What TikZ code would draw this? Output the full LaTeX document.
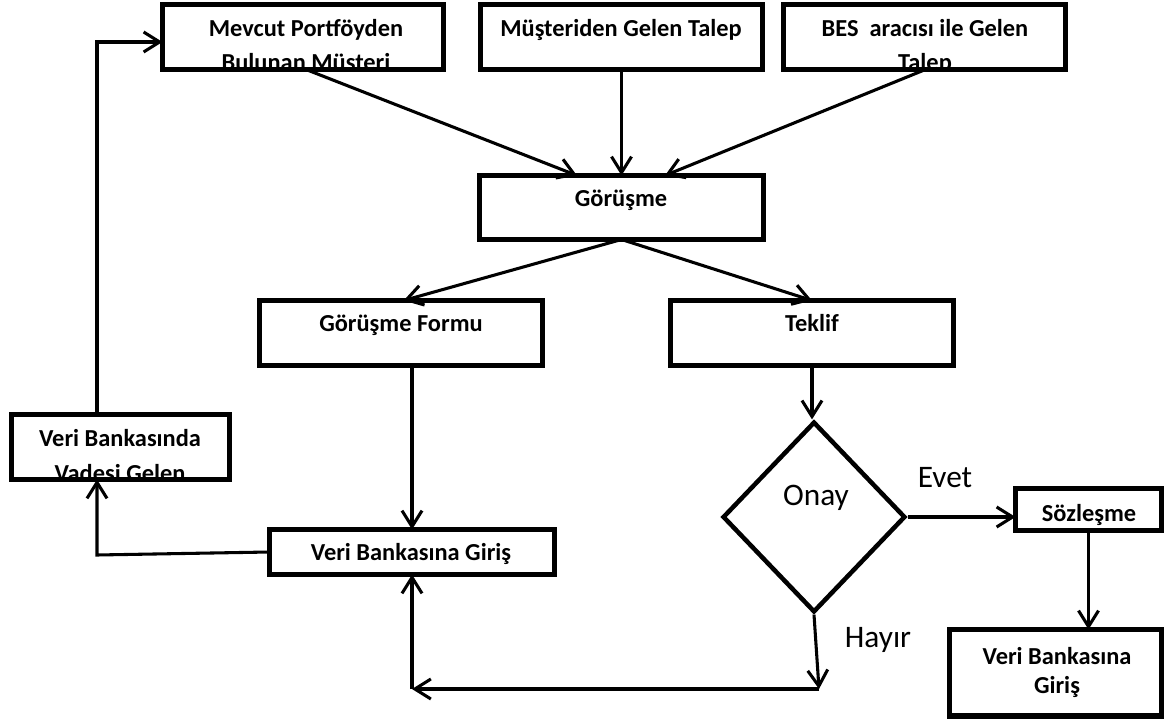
\documentclass[tikz,border=0pt]{standalone}
\usepackage{fontspec}
\setmainfont{Carlito}
\usetikzlibrary{arrows.meta,shapes.geometric,fit,calc}

\begin{document}
\begin{tikzpicture}[x=0.75pt,y=-0.75pt,
  box/.style={draw, line width=3.9pt, inner sep=0pt, outer sep=0pt},
  arr/.style={line width=2.3pt, -{Straight Barb[length=12pt,width=15pt]}},
  lbl/.style={anchor=base, inner sep=0pt, font=\fontsize{18.3}{22}\selectfont\bfseries},
  plain/.style={anchor=base, inner sep=0pt, font=\fontsize{23.5}{28}\selectfont},
]
% page
\fill[white] (0,0) rectangle (1164,720);
\useasboundingbox (0,0) rectangle (1164,720);

% process boxes
\node[box, fit={(162.5,4.5) (443.5,69.5)}] (mevcut) {};
\node[box, fit={(480.5,4.5) (762.5,69.5)}] (musteri) {};
\node[box, fit={(783.5,4.5) (1065.5,69.5)}] (bes) {};
\node[box, fit={(479.5,175.5) (763.5,239.5)}] (gorusme) {};
\node[box, fit={(259.5,300.5) (542.5,365.5)}] (form) {};
\node[box, fit={(670.5,300.5) (953.5,365.5)}] (teklif) {};
\node[box, fit={(11.5,414.5) (229.5,479.5)}] (vbanka) {};
\node[box, fit={(269.5,529.5) (554.5,574.5)}] (vbg) {};
\node[box, fit={(1015.5,488.5) (1161.5,530.5)}] (sozlesme) {};
\node[box, fit={(949.5,629.5) (1161.5,716)}] (vbg2) {};

% decision
\node[draw, diamond, line width=3.4pt, inner sep=0pt,
      minimum width=137pt, minimum height=143pt] (onay) at (814,517) {};

% box texts (overflowing second lines are cut at the box edge)
\node[lbl] (mevcutA) at (306,37) {Mevcut Portföyden};
\begin{scope}
  \clip (mevcut.south west) rectangle (mevcut.north east);
  \node[lbl] (mevcutB) at (306,71) {Bulunan Müşteri};
\end{scope}
\node[lbl] (musteriA) at (621,37) {Müşteriden Gelen Talep};
\node[lbl] (besA) at (925,37) {BES~~aracısı ile Gelen};
\begin{scope}
  \clip (bes.south west) rectangle (bes.north east);
  \node[lbl] (besB) at (925,71) {Talep};
\end{scope}
\node[lbl] (gorusmeA) at (621,207) {Görüşme};
\node[lbl] (formA) at (401,332) {Görüşme Formu};
\node[lbl] (teklifA) at (812,332) {Teklif};
\node[lbl] (vbankaA) at (120,446) {Veri Bankasında};
\begin{scope}
  \clip (vbanka.south west) rectangle (vbanka.north east);
  \node[lbl] (vbankaB) at (120,481) {Vadesi Gelen};
\end{scope}
\node[lbl] (vbgA) at (411,560) {Veri Bankasına Giriş};
\node[lbl] (sozlesmeA) at (1089,521) {Sözleşme};
\node[lbl] (vbg2A) at (1057,664) {Veri Bankasına};
\node[lbl] (vbg2B) at (1057,693) {Giriş};

\node[plain] (onayA) at (816,505) {Onay};
\node[plain] (evet) at (945,487) {Evet};
\node[plain] (hayir) at (878,647) {Hayır};

% connectors
\draw[arr] ([xshift=2.25pt]mevcut.south) -- ([xshift=-33.4pt]gorusme.north);
\draw[arr] (musteri.south) -- (musteri.south |- gorusme.north);
\draw[arr] ([xshift=0.75pt]bes.south) -- ([xshift=32.6pt]gorusme.north);
\draw[arr] (gorusme.south) -- ([xshift=2pt]form.north);
\draw[arr] (gorusme.south) -- (teklif.north);
\draw[arr] (vbg.north |- form.south) -- (vbg.north);
\draw[arr] (teklif.south) -- (teklif.south |- onay.north);
\draw[arr] (onay.east) -- (onay.east -| sozlesme.west);
\draw[arr] (sozlesme.south) -- (sozlesme.south |- vbg2.north);

\coordinate (hc) at (819,689);
\coordinate (hl) at (412,689);
\draw[arr] (onay.south) -- (hc);
\draw[arr] (hc) -- (hl);
\draw[arr] (hl) -- (vbg.south);

\coordinate (lc) at (97,555);
\draw[arr] (vbg.west) -- (lc) -- (lc |- vbanka.south);

\coordinate (tc) at (97,42);
\draw[arr] (tc |- vbanka.north) -- (tc) -- (tc -| mevcut.west);
\end{tikzpicture}
\end{document}
